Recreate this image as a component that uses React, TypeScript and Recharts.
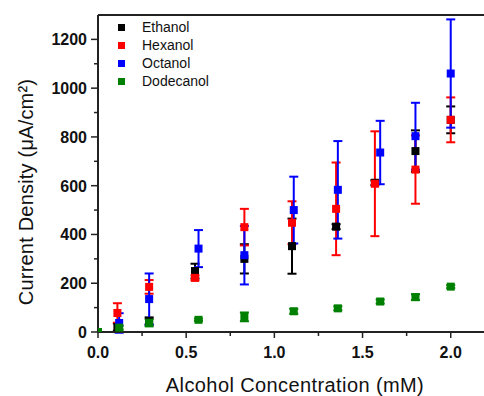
import React from 'react';
import { ScatterChart, Scatter, XAxis, YAxis, ErrorBar, ReferenceLine } from 'recharts';

// concentrations (mM), current density (uA/cm2), error (+/-)
const ethanolX = [0.11, 0.29, 0.55, 0.83, 1.1, 1.35, 1.57, 1.8, 2.0];
const ethanolY = [20, 45, 250, 300, 352, 432, 612, 742, 870];
const ethanolErr = [15, 15, 30, 60, 113, 10, 10, 85, 55];

const hexanolX = [0.11, 0.29, 0.55, 0.83, 1.1, 1.35, 1.57, 1.8, 2.0];
const hexanolY = [78, 185, 222, 430, 448, 505, 608, 666, 870];
const hexanolErr = [40, 28, 10, 75, 88, 190, 215, 140, 92];

const octanolX = [0.12, 0.29, 0.57, 0.83, 1.11, 1.36, 1.6, 1.8, 2.0];
const octanolY = [37, 135, 342, 315, 500, 583, 736, 803, 1060];
const octanolErr = [40, 105, 76, 120, 137, 200, 130, 137, 222];

const dodecanolX = [0, 0.12, 0.29, 0.57, 0.83, 1.11, 1.36, 1.6, 1.8, 2.0];
const dodecanolY = [0, 18, 38, 50, 62, 85, 97, 125, 143, 186];
const dodecanolErr = [0, 8, 15, 5, 18, 10, 8, 8, 12, 6];

const xTicks = [0, 0.25, 0.5, 0.75, 1.0, 1.25, 1.5, 1.75, 2.0];
const yTicks = [0, 100, 200, 300, 400, 500, 600, 700, 800, 900, 1000, 1100, 1200];

const FONT = '"Liberation Sans", Arial, sans-serif';
const AXIS = '#222';

const toRows = (xs: number[], ys: number[], errs: number[]) =>
  xs.map((x, i) => ({ x, y: ys[i], err: errs[i] }));

const series = [
  { name: 'Ethanol', color: '#000000', data: toRows(ethanolX, ethanolY, ethanolErr) },
  { name: 'Hexanol', color: '#ff0000', data: toRows(hexanolX, hexanolY, hexanolErr) },
  { name: 'Octanol', color: '#0000ff', data: toRows(octanolX, octanolY, octanolErr) },
  { name: 'Dodecanol', color: '#008000', data: toRows(dodecanolX, dodecanolY, dodecanolErr) },
];

const squareShape = (color: string) => (props: any) => (
  <rect x={props.cx - 4} y={props.cy - 4} width={8} height={8} fill={color} />
);

const XTick = (props: any) => {
  const { x, y, payload } = props;
  const major = Math.abs(payload.value * 2 - Math.round(payload.value * 2)) < 1e-6;
  return (
    <g>
      <line x1={x} x2={x} y1={y} y2={y + (major ? 6 : 4)} stroke={AXIS} strokeWidth={1.5} />
      {major && (
        <text x={x} y={y + 26} textAnchor="middle" fontSize={16} fontWeight="bold" fontFamily={FONT} fill="#111">
          {payload.value.toFixed(1)}
        </text>
      )}
    </g>
  );
};

const YTick = (props: any) => {
  const { x, y, payload } = props;
  const major = payload.value % 200 === 0;
  return (
    <g>
      <line x1={x - (major ? 7 : 4)} x2={x} y1={y} y2={y} stroke={AXIS} strokeWidth={1.5} />
      {major && (
        <text x={x - 11} y={y + 6} textAnchor="end" fontSize={16} fontWeight="bold" fontFamily={FONT} fill="#111">
          {payload.value}
        </text>
      )}
    </g>
  );
};

const LegendBox = () => (
  <div style={{ position: 'absolute', left: 118, top: 18, fontFamily: FONT, fontSize: 14, color: '#111' }}>
    {series.map(s => (
      <div key={s.name} style={{ display: 'flex', alignItems: 'center', height: 18 }}>
        <span style={{ display: 'inline-block', width: 7, height: 7, background: s.color, marginRight: 17 }} />
        {s.name}
      </div>
    ))}
  </div>
);

const App = () => {
  return (
    <div style={{ position: 'absolute', left: 0, top: 0, width: 484, height: 396, overflow: 'hidden', background: '#fff' }}>
      <ScatterChart width={486} height={396} margin={{ top: 15, right: 0, bottom: 0, left: 0 }}>
        <XAxis
          type="number"
          dataKey="x"
          domain={[0, 2.2]}
          ticks={xTicks}
          interval={0}
          height={64}
          tickLine={false}
          tickSize={0}
          tickMargin={0}
          tick={<XTick />}
          axisLine={{ stroke: AXIS, strokeWidth: 2 }}
          allowDataOverflow
          label={{
            content: () => (
              <text x={295} y={392} textAnchor="middle" fontSize={20} letterSpacing={0.4} fontFamily={FONT} fill="#111">
                Alcohol Concentration (mM)
              </text>
            ),
          }}
        />
        <YAxis
          type="number"
          dataKey="y"
          domain={[0, 1300]}
          ticks={yTicks}
          interval={0}
          width={98}
          tickLine={false}
          tickSize={0}
          tickMargin={0}
          tick={<YTick />}
          axisLine={{ stroke: AXIS, strokeWidth: 2 }}
          allowDataOverflow
          label={{
            content: () => (
              <text
                x={33}
                y={192}
                transform="rotate(-90 33 192)"
                textAnchor="middle"
                fontSize={20}
                letterSpacing={0.2}
                fontFamily={FONT}
                fill="#111"
              >
                Current Density (μA/cm²)
              </text>
            ),
          }}
        />
        <ReferenceLine y={1300} stroke={AXIS} strokeWidth={2} />
        {series.map(s => (
          <Scatter
            key={s.name}
            name={s.name}
            data={s.data}
            fill={s.color}
            shape={squareShape(s.color)}
            isAnimationActive={false}
          >
            <ErrorBar dataKey="err" direction="y" width={4.5} stroke={s.color} strokeWidth={2} />
          </Scatter>
        ))}
      </ScatterChart>
      <LegendBox />
    </div>
  );
};

export default App;
